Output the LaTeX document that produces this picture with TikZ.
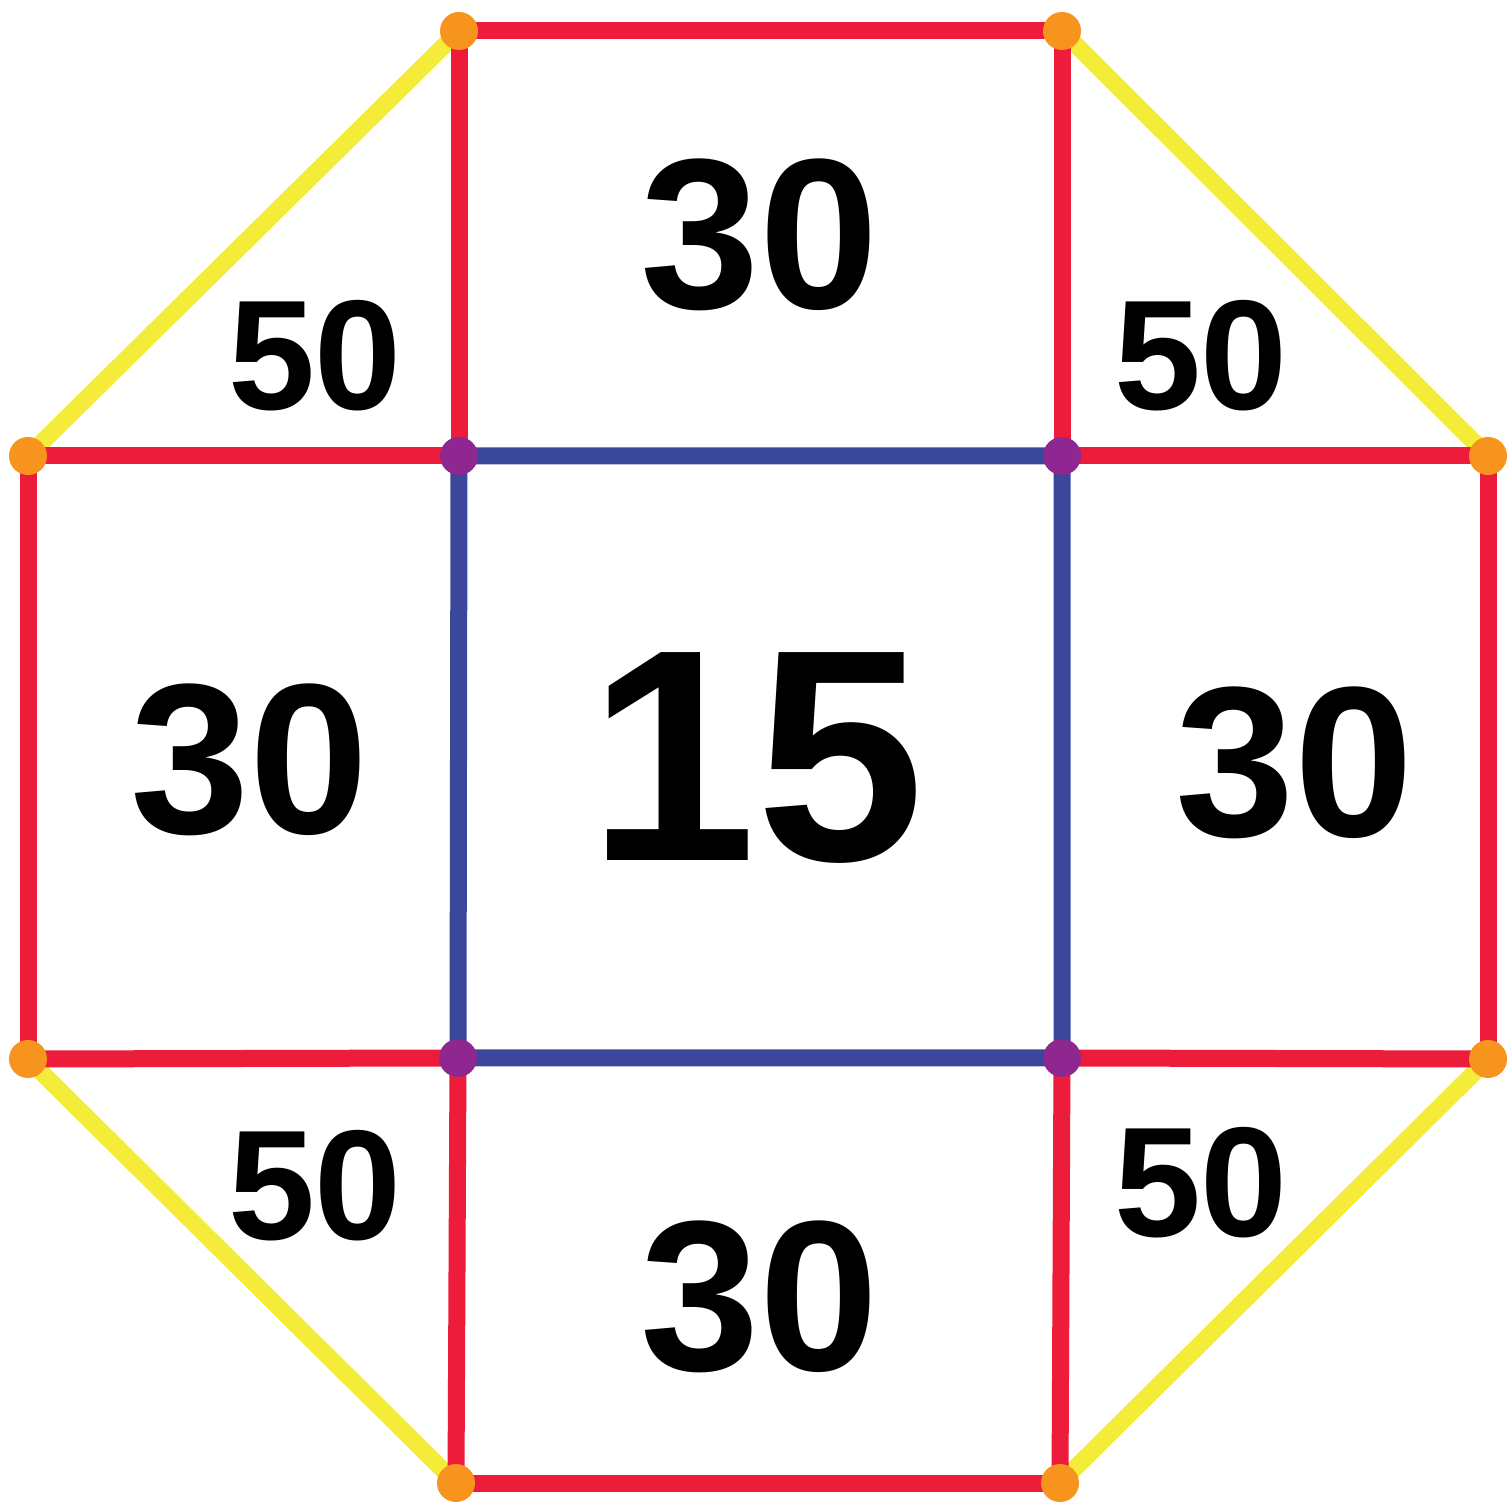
\documentclass[tikz,border=0pt]{standalone}
\usepackage{fontspec}
\setmainfont{Liberation Sans}
\usepackage{xcolor}
\definecolor{edgered}{HTML}{ED1C3A}
\definecolor{edgeyellow}{HTML}{F5EC3A}
\definecolor{edgeblue}{HTML}{3A479A}
\definecolor{dotpurple}{HTML}{8E278F}
\definecolor{dotorange}{HTML}{F7941E}

\begin{document}
\begin{tikzpicture}[
    redline/.style={draw=edgered, line width=0.17cm},
    yellowline/.style={draw=edgeyellow, line width=0.17cm},
    blueline/.style={draw=edgeblue, line width=0.17cm},
    odot/.style={circle, fill=dotorange, inner sep=0pt, minimum size=0.38cm},
    pdot/.style={circle, fill=dotpurple, inner sep=0pt, minimum size=0.38cm},
    big/.style={font=\fontsize{86}{90}\selectfont\bfseries},
    mid/.style={font=\fontsize{61}{64}\selectfont\bfseries},
    small/.style={font=\fontsize{44.5}{48}\selectfont\bfseries}]

    \useasboundingbox (0,0) rectangle (15.07,15.01);

    % Outer vertices
    \coordinate (o1) at (4.59,14.70);
    \coordinate (o2) at (10.62,14.70);
    \coordinate (o3) at (0.28,10.45);
    \coordinate (o4) at (14.88,10.45);
    \coordinate (o5) at (0.28,4.42);
    \coordinate (o6) at (14.88,4.42);
    \coordinate (o7) at (4.56,0.18);
    \coordinate (o8) at (10.60,0.18);

    % Inner vertices
    \coordinate (p1) at (4.59,10.45);
    \coordinate (p2) at (10.62,10.45);
    \coordinate (p3) at (4.58,4.43);
    \coordinate (p4) at (10.62,4.43);

    % Diagonals
    \draw[yellowline] (o1) -- (o3);
    \draw[yellowline] (o2) -- (o4);
    \draw[yellowline] (o5) -- (o7);
    \draw[yellowline] (o6) -- (o8);

    % Squares
    \draw[redline] (o1) -- (o2);
    \draw[redline] (o1) -- (p1);
    \draw[redline] (o2) -- (p2);
    \draw[redline] (o3) -- (p1);
    \draw[redline] (o3) -- (o5);
    \draw[redline] (o5) -- (p3);
    \draw[redline] (o4) -- (p2);
    \draw[redline] (o4) -- (o6);
    \draw[redline] (o6) -- (p4);
    \draw[redline] (p3) -- (o7);
    \draw[redline] (p4) -- (o8);
    \draw[redline] (o7) -- (o8);

    % Centre square
    \draw[blueline] (p1) -- (p2) -- (p4) -- (p3) -- cycle;

    % Dots
    \foreach \v in {o1,o2,o3,o4,o5,o6,o7,o8}
        \node[odot] (d\v) at (\v) {};
    \foreach \v in {p1,p2,p3,p4}
        \node[pdot] (d\v) at (\v) {};

    % Labels
    \node[big] (centre) at (7.57,7.43) {15};
    \node[mid] (top) at (7.60,12.66) {30};
    \node[mid] (left) at (2.50,7.41) {30};
    \node[mid] (right) at (12.95,7.38) {30};
    \node[mid] (bottom) at (7.60,2.04) {30};
    \node[small] (tl) at (3.15,11.45) {50};
    \node[small] (tr) at (12.01,11.45) {50};
    \node[small] (bl) at (3.15,3.15) {50};
    \node[small] (br) at (12.01,3.18) {50};
\end{tikzpicture}
\end{document}
